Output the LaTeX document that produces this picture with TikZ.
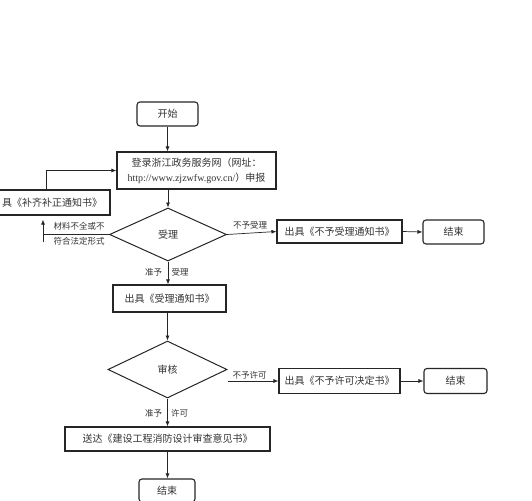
\documentclass[tikz,border=0pt]{standalone}
\usepackage{fontspec}
\setmainfont{Liberation Serif}
\newfontfamily\cjk{Noto Sans CJK SC}
\usetikzlibrary{shapes.geometric,arrows.meta}
\tikzset{
  base/.style={draw=black!85, line width=1.1pt, inner sep=0pt, text=black!80, font=\cjk\fontsize{10}{15}\selectfont, align=center},
  box/.style={base, rectangle},
  term/.style={base, rectangle, rounded corners=3pt},
  dec/.style={base, diamond, line width=1pt},
  lbl/.style={text=black!80, font=\cjk\fontsize{8.5}{10}\selectfont, inner sep=0pt},
  txt/.style={text=black!80, font=\cjk\fontsize{10}{15}\selectfont, inner sep=0pt},
  arr/.style={draw=black!85, line width=0.7pt, -{Latex[length=5pt,width=4pt]}},
  ln/.style={draw=black!85, line width=0.7pt}
}
\begin{document}
\begin{tikzpicture}[x=1pt,y=-1pt]
\useasboundingbox (0,0) rectangle (532,500);
\clip (0,0) rectangle (532,500);
\fill[white] (0,0) rectangle (532,500);

\node[term, minimum width=61pt, minimum height=24pt] (start) at (167.5,114) {开始};
\node[box, minimum width=159pt, minimum height=37pt] (login) at (196.5,170.5)
  {登录浙江政务服务网（网址：\\{\rmfamily http://www.zjzwfw.gov.cn/}）申报};
\node[box, minimum width=128pt, minimum height=25pt] (fix) at (46,202.5) {};
\node[txt] (fixtxt) at (52,202.5) {具《补齐补正通知书》};
\node[dec, minimum width=117pt, minimum height=53pt] (accept) at (168,234.5) {受理};
\node[box, minimum width=125pt, minimum height=23pt] (notacc) at (339.5,231.5) {出具《不予受理通知书》};
\node[term, minimum width=61pt, minimum height=24pt] (endA) at (453.5,232) {结束};
\node[box, minimum width=113pt, minimum height=27pt] (notice) at (169.5,298.5) {出具《受理通知书》};
\node[dec, minimum width=119pt, minimum height=57pt] (review) at (167.5,369.5) {审核};
\node[box, minimum width=121pt, minimum height=25pt] (deny) at (339.5,381) {出具《不予许可决定书》};
\node[term, minimum width=63pt, minimum height=25pt] (endB) at (455.5,381) {结束};
\node[box, minimum width=205pt, minimum height=24pt] (deliver) at (167.5,439) {送达《建设工程消防设计审查意见书》};
\node[term, minimum width=56pt, minimum height=23pt] (endC) at (167,490.5) {结束};

% connectors
\draw[arr] (start.south) -- (start.south |- login.north);
\draw[arr] (accept.north |- login.south) -- (accept.north);
\draw[arr] (accept.east) -- (notacc.west);
\draw[arr] (notacc.east) -- (endA.west);
\draw[arr] (accept.south) -- (accept.south |- notice.north);
\draw[arr] (fix.north) |- (login.west);
\coordinate (corner) at (43,234.5);
\coordinate (upfoot) at (43,242);
\draw[ln] (accept.west) -- (corner);
\draw[arr, shorten >=4pt] (upfoot) -- (upfoot |- fix.south);
\draw[arr] (review.north |- notice.south) -- (review.north);
\draw[arr] ([yshift=-11.5pt]review.east) -- (deny.west);
\draw[arr] (deny.east) -- (endB.west);
\draw[arr] (review.south) -- (review.south |- deliver.north);
\draw[arr] (deliver.south) -- (deliver.south |- endC.north);

% labels
\node[lbl] (l1) at (250,225) {不予受理};
\node[lbl] (l2) at (79,226) {材料不全或不};
\node[lbl] (l3) at (79,241) {符合法定形式};
\node[lbl] (l4) at (153.5,272) {准予};
\node[lbl] (l5) at (180,272) {受理};
\node[lbl] (l6) at (249.5,375) {不予许可};
\node[lbl] (l7) at (153.5,413) {准予};
\node[lbl] (l8) at (179.5,413) {许可};
\end{tikzpicture}
\end{document}
